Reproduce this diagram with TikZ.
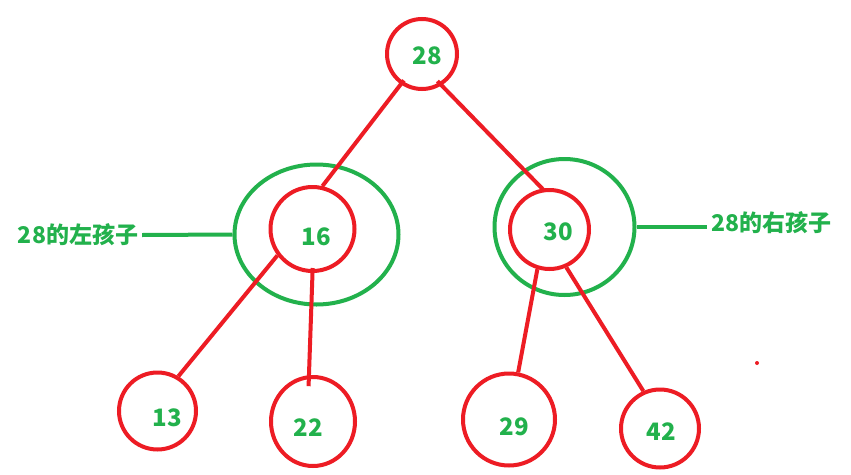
\documentclass[tikz,border=0pt]{standalone}
\usepackage{fontspec}
\newfontfamily\cjk{Noto Sans CJK SC}
\usetikzlibrary{shapes.geometric}
\definecolor{pred}{HTML}{ED1C24}
\definecolor{pgreen}{HTML}{22B14C}
\tikzset{
  rc/.style={circle,draw=pred,line width=4pt,inner sep=0pt,minimum size=#1},
  gel/.style={ellipse,draw=pgreen,line width=4pt,inner sep=0pt},
  num/.style={text=pgreen,font=\cjk\bfseries\fontsize{24}{24}\selectfont,inner sep=0pt},
  side/.style={text=pgreen,font=\cjk\bfseries\fontsize{23}{23}\selectfont,inner sep=4pt},
  redline/.style={draw=pred,line width=4pt},
  greenline/.style={draw=pgreen,line width=4pt}
}
\begin{document}
\begin{tikzpicture}[x=1pt,y=-1pt]
\path[use as bounding box,fill=white] (0,0) rectangle (851,474);
% green ellipses
\node[gel,minimum width=164pt,minimum height=140pt] (e16) at (316.5,234.5) {};
\node[gel,minimum width=140pt,minimum height=136pt] (e30) at (564.5,227) {};
% red circles
\node[rc=70pt] (n28) at (422,54) {};
\node[rc=84pt] (n16) at (312.5,229) {};
\node[rc=79pt] (n30) at (549.5,229.5) {};
\node[rc=77pt] (n13) at (157.5,411) {};
\node[ellipse,draw=pred,line width=4pt,inner sep=0pt,minimum width=84pt,minimum height=89pt] (n22) at (313,421.5) {};
\node[rc=92pt] (n29) at (509,419.5) {};
\node[rc=78pt] (n42) at (660,428.5) {};
% numbers
\node[num] (t28) at (427,56) {28};
\node[num] (t16) at (316,237) {16};
\node[num] (t30) at (558,232) {30};
\node[num] (t13) at (167,418) {13};
\node[num] (t22) at (308,428) {22};
\node[num] (t29) at (514,427) {29};
\node[num] (t42) at (661,432) {42};
% connectors
\draw[redline,shorten <=-5pt] (n28.235) -- (n16.77);
\draw[redline,shorten <=-6pt,shorten >=-3pt] (n28.302) -- (n30.100);
\draw[redline] (n16.217) -- (n13.59);
\draw[redline,shorten <=-5pt,shorten >=-11pt] (n16.270) -- (n22.95);
\draw[redline] (n30.253) -- (n29.79);
\draw[redline] (n30.294) -- (n42.114);
% side labels
\node[side] (lL) at (78,235) {28的左孩子};
\node[side] (lR) at (771,223) {28的右孩子};
\draw[greenline] (lL.east) -- (e16.west);
\draw[greenline] (e30.east) -- (e30.east -| lR.west);
% stray dot
\fill[pred] (757,363) circle (2pt);
\end{tikzpicture}
\end{document}
